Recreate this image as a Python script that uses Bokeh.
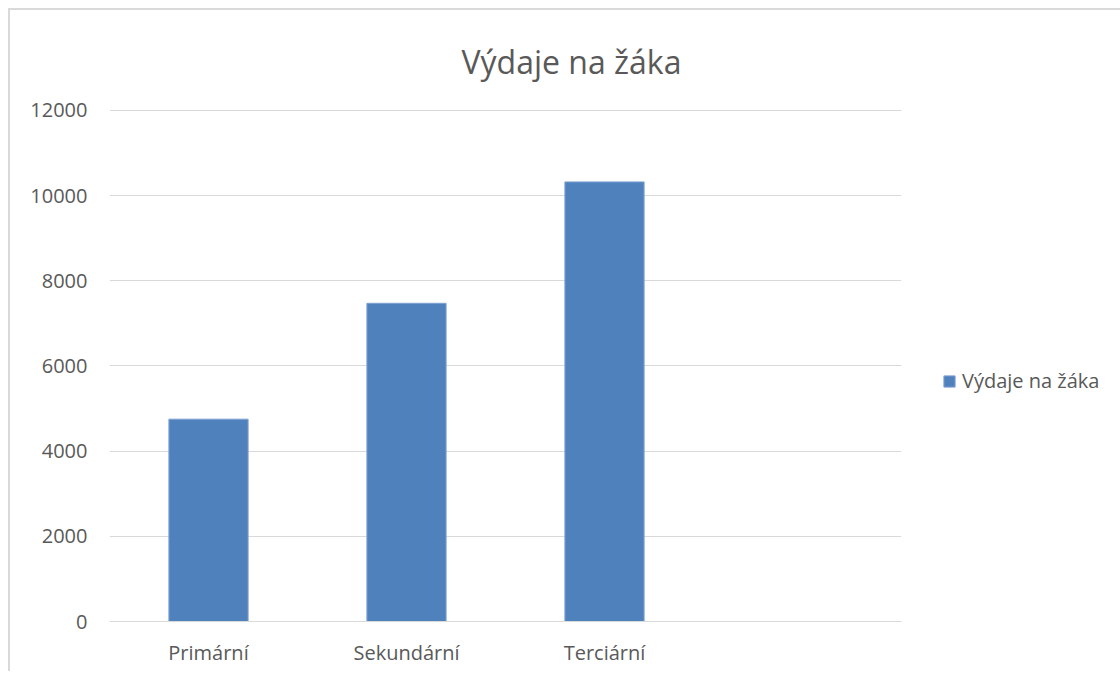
from bokeh.plotting import figure
from bokeh.models import (FactorRange, Range1d, Title, Legend, LegendItem,
                          FixedTicker, ColumnDataSource)
from bokeh.embed import file_html
from bokeh.resources import INLINE

# ---- data ----
categories = ["Primární", "Sekundární", "Terciární"]
values = [4750, 7470, 10320]
series_name = "Výdaje na žáka"
chart_title = "Výdaje na žáka"
y_ticks = [0, 2000, 4000, 6000, 8000, 10000, 12000]

FONT = "Open Sans"
GRAY = "#595959"
GRID = "#d9d9d9"
BLUE = "#4f81bd"

src = ColumnDataSource(dict(cat=categories, val=values))

p = figure(
    width=1108, height=661,
    frame_width=792, frame_height=512,
    x_range=FactorRange(factors=categories + [" "], range_padding=0),
    y_range=Range1d(0, 12020),
    output_backend="svg", toolbar_location=None,
    min_border_left=99, min_border_right=217,
    min_border_top=99, min_border_bottom=50,
)
p.styles = {"border-left": "2px solid #d9d9d9", "border-top": "2px solid #d9d9d9",
            "margin-left": "8px", "margin-top": "8px"}
p.outline_line_color = None
p.background_fill_color = "white"
p.border_fill_color = "white"

r = p.vbar(x="cat", top="val", width=0.4, source=src,
           fill_color=BLUE, line_color="#7fa2d3", line_width=1)

# axes
p.xgrid.grid_line_color = None
p.ygrid.grid_line_color = GRID
p.ygrid.grid_line_width = 1
p.yaxis.ticker = FixedTicker(ticks=y_ticks)
p.yaxis.axis_line_color = None
p.yaxis.major_tick_line_color = None
p.yaxis.minor_tick_line_color = None
p.yaxis.major_label_standoff = 16
p.xaxis.axis_line_color = GRID
p.xaxis.axis_line_width = 1
p.xaxis.major_tick_line_color = None
p.xaxis.minor_tick_line_color = None
p.xaxis.major_label_standoff = 11
for ax in (p.xaxis[0], p.yaxis[0]):
    ax.major_label_text_font = FONT
    ax.major_label_text_font_size = "20px"
    ax.major_label_text_color = GRAY

# title
p.add_layout(Title(text=chart_title, align="left", offset=352, standoff=53,
                   text_font=FONT, text_font_size="32px", text_color=GRAY,
                   text_font_style="normal"), "above")

legend = Legend(items=[LegendItem(label=series_name, renderers=[r])],
                location=(41, 227), padding=0, margin=0,
                border_line_color=None, background_fill_alpha=0,
                glyph_width=14, glyph_height=14, label_standoff=6,
                label_height=20,
                label_text_font=FONT, label_text_font_size="20px",
                label_text_color=GRAY)
p.add_layout(legend, "right")

open("out.html", "w").write(file_html(p, INLINE))
